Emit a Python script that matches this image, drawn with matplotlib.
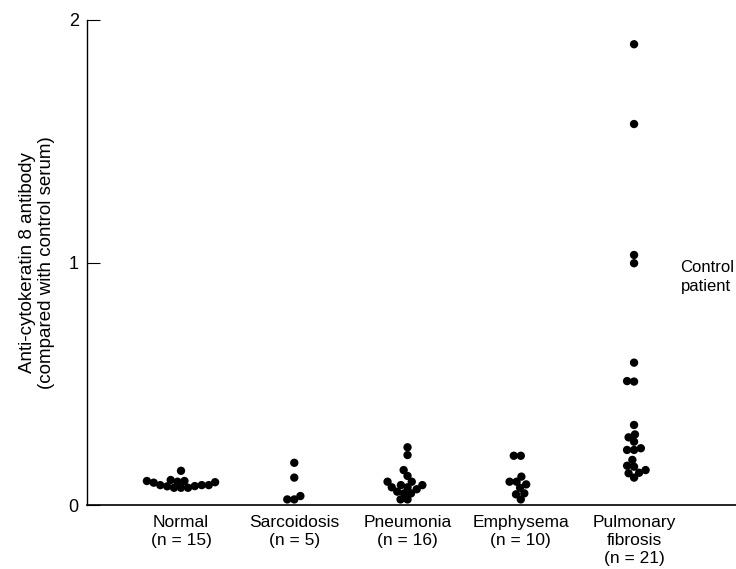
import numpy as np
import matplotlib
matplotlib.use("Agg")
import matplotlib.pyplot as plt

plt.rcParams['font.family'] = ['Liberation Sans', 'DejaVu Sans']

categories = ["Normal\n(n = 15)", "Sarcoidosis\n(n = 5)", "Pneumonia\n(n = 16)",
              "Emphysema\n(n = 10)", "Pulmonary\nfibrosis\n(n = 21)"]

normal = [0.092, 0.082, 0.071, 0.099, 0.082, 0.141, 0.099, 0.078, 0.096,
          0.082, 0.103, 0.071, 0.071, 0.094, 0.077]
sarcoidosis = [0.174, 0.113, 0.023, 0.023, 0.037]
pneumonia = [0.238, 0.206, 0.144, 0.120, 0.096, 0.073, 0.048, 0.023,
             0.096, 0.073, 0.048, 0.082, 0.055, 0.082, 0.023, 0.065]
emphysema = [0.203, 0.203, 0.117, 0.096, 0.096, 0.085, 0.071, 0.048, 0.044, 0.023]
fibrosis = [1.900, 1.571, 1.031, 0.997, 0.587, 0.509, 0.511, 0.330, 0.291,
            0.279, 0.261, 0.227, 0.234, 0.227, 0.186, 0.162, 0.144, 0.113,
            0.131, 0.133, 0.158]
groups = [normal, sarcoidosis, pneumonia, emphysema, fibrosis]

yticks = [0, 1, 2]
annotation = "Control\npatient"
annotation_value = 0.94

fig = plt.figure(figsize=(7.36, 5.69), dpi=100)
ax = fig.add_axes([87/736, 64/569, 1 - 87/736, 485/569])
ax.set_xlim(-0.83, 4.90)
ax.set_ylim(0, 2)

dot_px = 7.0  # collision distance in pixels (dots overlap slightly)


def swarm_offsets(values, pos):
    # simple beeswarm in pixel space
    pts = ax.transData.transform(np.column_stack([np.full(len(values), pos), values]))
    order = np.argsort(pts[:, 1])
    placed = []
    xs = np.zeros(len(values))
    for i in order:
        y = pts[i, 1]
        x0 = pts[i, 0]
        cands = [0.0]
        for (px, py) in placed:
            dy = abs(py - y)
            if dy < dot_px:
                dx = np.sqrt(dot_px**2 - dy**2)
                cands += [px - x0 + dx, px - x0 - dx]
        cands = sorted(cands, key=lambda c: (abs(c), c))
        for c in cands:
            ok = True
            for (px, py) in placed:
                if (px - (x0 + c))**2 + (py - y)**2 < dot_px**2 - 1e-6:
                    ok = False
                    break
            if ok:
                break
        placed.append((x0 + c, y))
        xs[i] = x0 + c
    data = ax.transData.inverted().transform(np.column_stack([xs, pts[:, 1]]))
    return data[:, 0]


for i, vals in enumerate(groups):
    xs = swarm_offsets(vals, i)
    ax.scatter(xs, vals, s=36, color='black', edgecolors='none', zorder=3, clip_on=False)

ax.text(4.41, annotation_value, annotation, fontsize=12, ha='left', va='center',
        linespacing=1.4)

for s in ['top', 'right']:
    ax.spines[s].set_visible(False)
ax.spines['left'].set_linewidth(1.0)
ax.spines['bottom'].set_linewidth(1.2)

ax.set_yticks(yticks)
ax.set_yticklabels([str(t) for t in yticks])
ax.tick_params(axis='y', direction='in', length=9.5, width=0.8, pad=6, labelsize=13)
ax.set_xticks(range(len(categories)))
ax.set_xticklabels(categories, fontsize=12.5, linespacing=1.25)
ax.tick_params(axis='x', length=0, pad=7)

ax.set_ylabel("Anti-cytokeratin 8 antibody\n(compared with control serum)",
              fontsize=13.5, linespacing=1.1, labelpad=10)

fig.savefig("out.png", dpi=100)
